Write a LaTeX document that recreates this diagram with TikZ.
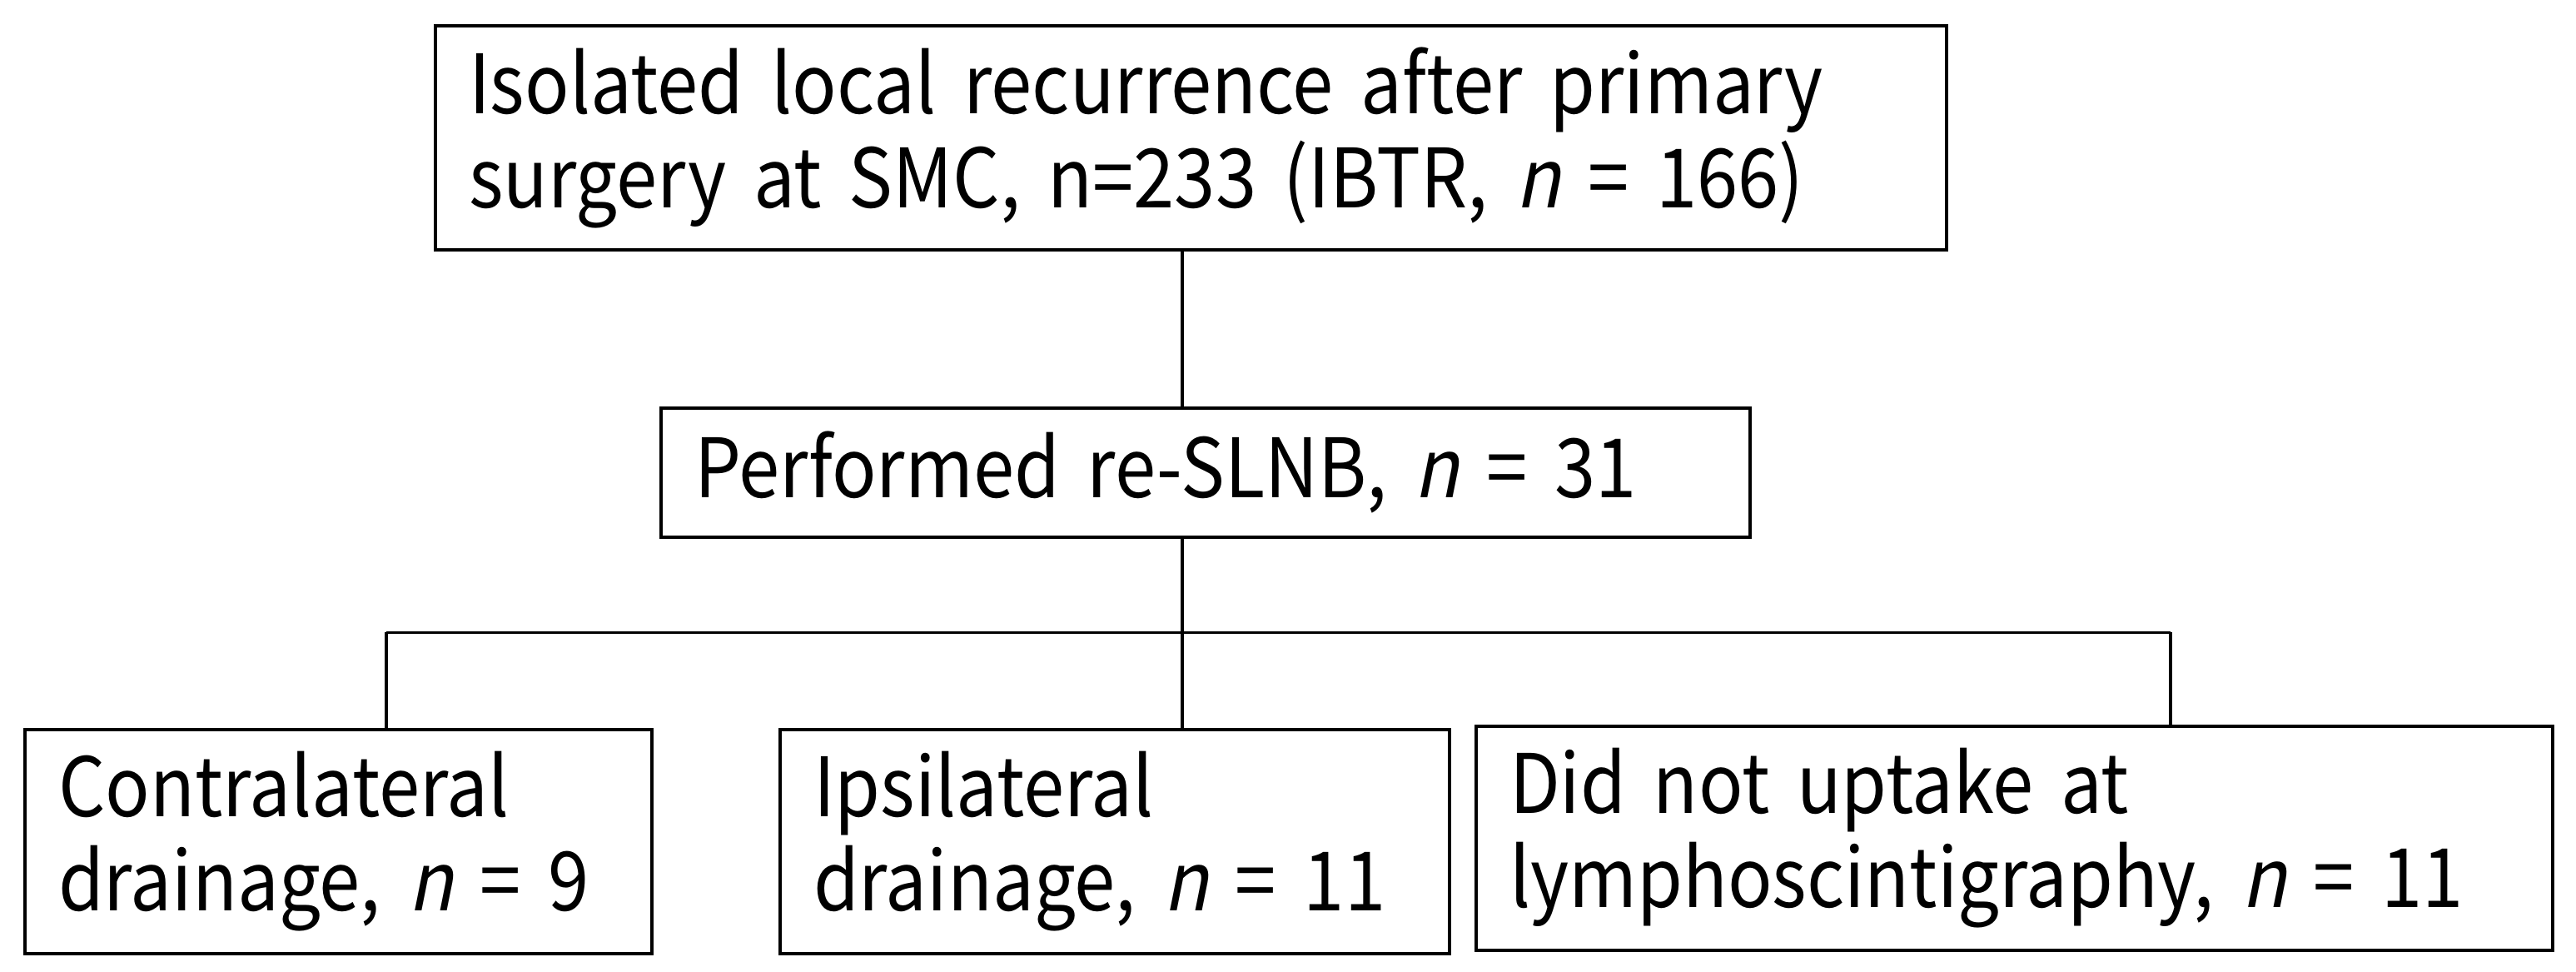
\documentclass[tikz,border=0pt]{standalone}
\usepackage{fontspec}
\setmainfont{Noto Sans CJK KR}[AutoFakeSlant=0.2, FakeStretch=0.9]
\usetikzlibrary{positioning}

\tikzset{
    box/.style={draw, rectangle, line width=1.1pt, align=left,
        inner xsep=0.4cm, inner ysep=0pt,
        font=\fontsize{28}{32.2}\selectfont},
    link/.style={line width=0.9pt},
    bar/.style={line width=1.1pt}
}

\begin{document}
\begin{tikzpicture}
        % Fix the page size
        \useasboundingbox (0,0) rectangle (30.94,-11.67);

        % Draw the top box
        \node[box, text width=17.35cm, minimum height=2.69cm] (top) at (14.305,-1.655)
            {Isolated local recurrence after primary\\surgery at SMC, n=233 (IBTR, \textit{n} = 166)};

        % Draw the middle box
        \node[box, text width=12.28cm, minimum height=1.55cm] (mid) at (14.48,-5.675)
            {Performed re-SLNB, \textit{n} = 31};

        % Draw the three bottom boxes
        \node[box, text width=6.73cm, minimum height=2.69cm] (contra) at (4.065,-10.105)
            {Contralateral\\drainage, \textit{n} = 9};
        \node[box, text width=7.24cm, minimum height=2.69cm] (ipsi) at (13.39,-10.105)
            {Ipsilateral\\drainage, \textit{n} = 11};
        \node[box, text width=12.13cm, minimum height=2.69cm] (noup) at (24.195,-10.065)
            {Did not uptake at\\lymphoscintigraphy, \textit{n} = 11};

        % Define the split points
        \coordinate (split) at (14.2,-7.595);
        \coordinate (lsplit) at (4.64,-7.595);
        \coordinate (rsplit) at (26.07,-7.595);

        % Draw the connectors
        \draw[link] (top.south -| split) -- (mid.north -| split);
        \draw[link] (mid.south -| split) -- (ipsi.north -| split);
        \draw[bar] (lsplit) -- (rsplit);
        \draw[link] (lsplit) -- (contra.north -| lsplit);
        \draw[link] (rsplit) -- (noup.north -| rsplit);

    \end{tikzpicture}
\end{document}
